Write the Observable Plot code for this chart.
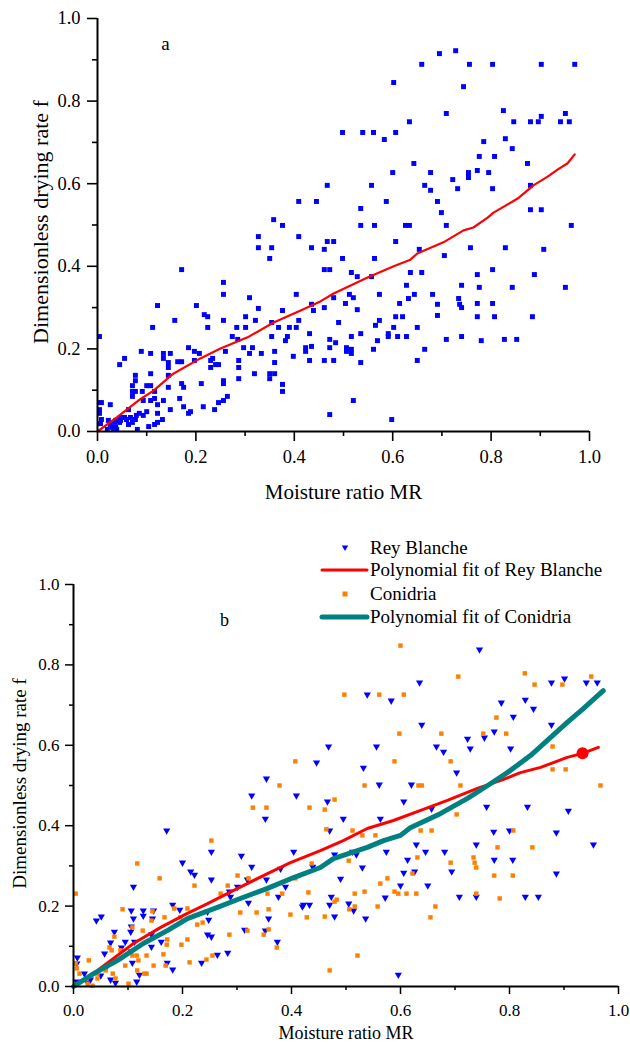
<!DOCTYPE html>
<html><head><meta charset="utf-8">
<script src="https://cdn.jsdelivr.net/npm/d3@7"></script>
<script src="https://cdn.jsdelivr.net/npm/@observablehq/plot@0.6"></script>
<style>
body{margin:0;background:#fff;}
#wrap{position:relative;width:630px;height:1044px;overflow:hidden;background:#fff;}
#pa{position:absolute;left:0;top:0}
#pb{position:absolute;left:0;top:530px}
#legend{position:absolute;left:0;top:530px}
</style></head><body><div id="wrap"><div id="pa"></div><div id="pb"></div><div id="legend"></div></div>
<script>
// ---------- Data ----------
const majorTicks = [0, 0.2, 0.4, 0.6, 0.8, 1.0];
const minorTicks = [0.1, 0.3, 0.5, 0.7, 0.9];
const tickLabels = ["0.0", "0.2", "0.4", "0.6", "0.8", "1.0"];
const xTitle = "Moisture ratio MR";
const yTitle = "Dimensionless drying rate f";
const seriesNames = ["Rey Blanche", "Polynomial fit of Rey Blanche", "Conidria", "Polynomial fit of Conidria"];

// Panel a scatter
const aX = [0.695,0.728,0.659,0.756,0.803,0.902,0.970,0.602,0.744,0.709,0.825,0.951,0.902,0.634,0.846,0.880,0.896,0.941,0.959,0.498,0.539,0.561,0.606,0.583,0.785,0.829,0.843,0.776,0.807,0.874,0.643,0.600,0.677,0.754,0.772,0.795,0.754,0.722,0.467,0.557,0.665,0.880,0.677,0.732,0.803,0.409,0.445,0.587,0.691,0.535,0.699,0.880,0.902,0.358,0.376,0.535,0.563,0.626,0.634,0.709,0.963,0.327,0.409,0.467,0.480,0.606,0.327,0.354,0.435,0.461,0.654,0.758,0.829,0.907,0.350,0.498,0.563,0.705,0.461,0.472,0.171,0.516,0.528,0.557,0.636,0.659,0.772,0.803,0.888,0.256,0.628,0.740,0.776,0.843,0.951,0.256,0.404,0.512,0.573,0.644,0.681,0.309,0.480,0.520,0.632,0.734,0.122,0.201,0.327,0.435,0.504,0.614,0.691,0.736,0.772,0.803,0.376,0.439,0.461,0.528,0.740,0.217,0.224,0.301,0.606,0.620,0.691,0.772,0.807,0.884,0.157,0.256,0.321,0.354,0.409,0.490,0.573,0.565,0.602,0.650,0.112,0.224,0.283,0.301,0.368,0.390,0.404,0.431,0.535,0.516,0.591,0.591,0.610,0.628,0.740,0.004,0.274,0.354,0.386,0.285,0.382,0.472,0.569,0.709,0.780,0.827,0.852,0.484,0.315,0.297,0.423,0.435,0.472,0.506,0.516,0.561,0.665,0.423,0.506,0.516,0.089,0.108,0.134,0.148,0.185,0.197,0.207,0.260,0.309,0.333,0.360,0.055,0.134,0.234,0.398,0.431,0.461,0.480,0.650,0.535,0.045,0.144,0.163,0.171,0.197,0.230,0.287,0.240,0.246,0.360,0.144,0.230,0.287,0.077,0.108,0.144,0.319,0.350,0.360,0.350,0.077,0.256,0.287,0.256,0.211,0.171,0.376,0.071,0.100,0.108,0.175,0.144,0.376,0.071,0.077,0.091,0.116,0.071,0.093,0.108,0.116,0.134,0.167,0.264,0.256,0.246,0.122,0.026,0.004,0.008,0.175,0.215,0.004,0.148,0.238,0.063,0.004,0.085,0.100,0.122,0.189,0.185,0.079,0.093,0.047,0.055,0.067,0.059,0.077,0.132,0.008,0.022,0.037,0.047,0.035,0.045,0.071,0.122,0.006,0.026,0.063,0.116,0.104,0.030,0.037,0.081,0.033,0.039,0.020,0.520,0.472,0.598];
const aY = [0.915,0.922,0.889,0.889,0.889,0.889,0.889,0.845,0.835,0.770,0.777,0.770,0.763,0.750,0.750,0.750,0.750,0.750,0.750,0.724,0.724,0.724,0.724,0.707,0.702,0.709,0.685,0.666,0.666,0.649,0.649,0.627,0.627,0.627,0.632,0.627,0.615,0.610,0.596,0.596,0.596,0.596,0.584,0.588,0.588,0.557,0.557,0.557,0.557,0.540,0.530,0.537,0.537,0.513,0.499,0.499,0.499,0.499,0.499,0.499,0.499,0.472,0.472,0.460,0.460,0.460,0.445,0.445,0.445,0.441,0.441,0.445,0.445,0.441,0.419,0.419,0.419,0.426,0.392,0.392,0.392,0.385,0.375,0.375,0.385,0.385,0.380,0.392,0.380,0.361,0.354,0.354,0.349,0.349,0.349,0.332,0.332,0.332,0.332,0.332,0.332,0.324,0.324,0.324,0.322,0.322,0.305,0.305,0.298,0.308,0.310,0.310,0.308,0.308,0.310,0.310,0.293,0.293,0.300,0.295,0.300,0.283,0.278,0.278,0.278,0.278,0.281,0.278,0.278,0.278,0.269,0.269,0.269,0.264,0.269,0.264,0.269,0.257,0.252,0.252,0.252,0.252,0.252,0.252,0.252,0.252,0.252,0.237,0.237,0.230,0.237,0.230,0.230,0.230,0.230,0.230,0.230,0.230,0.230,0.223,0.220,0.223,0.220,0.223,0.220,0.223,0.223,0.215,0.203,0.203,0.203,0.206,0.203,0.203,0.199,0.199,0.199,0.194,0.194,0.189,0.194,0.189,0.189,0.189,0.203,0.194,0.189,0.194,0.189,0.189,0.194,0.177,0.177,0.177,0.182,0.172,0.172,0.172,0.172,0.167,0.162,0.167,0.169,0.169,0.172,0.172,0.172,0.162,0.162,0.167,0.155,0.155,0.155,0.136,0.140,0.136,0.140,0.140,0.140,0.128,0.123,0.123,0.128,0.116,0.116,0.116,0.114,0.111,0.111,0.111,0.107,0.107,0.097,0.097,0.097,0.097,0.097,0.085,0.075,0.075,0.080,0.075,0.080,0.085,0.075,0.070,0.065,0.065,0.070,0.070,0.060,0.060,0.053,0.053,0.053,0.053,0.044,0.044,0.048,0.044,0.048,0.044,0.039,0.039,0.034,0.034,0.034,0.029,0.029,0.029,0.029,0.027,0.027,0.027,0.022,0.022,0.022,0.022,0.019,0.017,0.017,0.017,0.012,0.010,0.010,0.005,0.005,0.005,0.005,0.075,0.041,0.029];

// Panel a polynomial fit
const fitAX = [0,0.04,0.083,0.114,0.154,0.209,0.250,0.305,0.358,0.413,0.453,0.480,0.549,0.602,0.636,0.650,0.703,0.744,0.764,0.793,0.805,0.854,0.874,0.886,0.915,0.935,0.955,0.970];
const fitAY = [0,0.035,0.075,0.099,0.140,0.177,0.201,0.228,0.264,0.293,0.315,0.334,0.373,0.400,0.416,0.431,0.458,0.487,0.494,0.518,0.530,0.564,0.584,0.596,0.617,0.634,0.649,0.671];

// Panel b: Rey Blanche
const rbX = [0.745,0.635,0.901,0.877,0.941,0.961,0.539,0.583,0.785,0.829,0.844,0.807,0.639,0.877,0.772,0.723,0.754,0.468,0.556,0.666,0.679,0.728,0.802,0.446,0.532,0.703,0.561,0.620,0.466,0.606,0.758,0.833,0.908,0.657,0.495,0.563,0.470,0.771,0.800,0.886,0.171,0.327,0.354,0.352,0.409,0.253,0.308,0.404,0.200,0.327,0.215,0.222,0.253,0.110,0.319,0.354,0.042,0.051,0.286,0.301,0.288,0.380,0.389,0.376,0.420,0.433,0.321,0.182,0.195,0.106,0.128,0.147,0.128,0.246,0.110,0.145,0.248,0.358,0.106,0.314,0.246,0.253,0.352,0.075,0.105,0.143,0.068,0.095,0.112,0.161,0.374,0.057,0.106,0.143,0.088,0.283,0.264,0.172,0.235,0.182,0.061,0.007,0.006,0.108,0.121,0.020,0.050,0.068,0.031,0.116,0.077,0.026,0.006,0.629,0.739,0.954,0.479,0.512,0.519,0.574,0.646,0.681,0.613,0.772,0.806,0.439,0.530,0.606,0.626,0.694,0.886,0.490,0.600,0.650,0.473,0.572,0.708,0.739,0.829,0.853,0.422,0.470,0.505,0.514,0.479,0.536,0.596];
const rbY = [0.836,0.754,0.764,0.754,0.754,0.754,0.724,0.709,0.704,0.711,0.689,0.669,0.649,0.649,0.632,0.614,0.617,0.595,0.595,0.595,0.582,0.590,0.590,0.555,0.542,0.530,0.500,0.500,0.458,0.458,0.445,0.445,0.435,0.440,0.415,0.415,0.386,0.383,0.386,0.381,0.386,0.473,0.515,0.415,0.473,0.333,0.323,0.333,0.306,0.296,0.284,0.276,0.264,0.246,0.264,0.264,0.162,0.172,0.234,0.246,0.221,0.291,0.246,0.221,0.197,0.201,0.206,0.201,0.189,0.187,0.187,0.187,0.174,0.184,0.167,0.167,0.164,0.167,0.147,0.139,0.127,0.122,0.137,0.134,0.134,0.127,0.107,0.109,0.109,0.109,0.109,0.080,0.085,0.097,0.095,0.082,0.077,0.057,0.057,0.040,0.047,0.070,0.055,0.057,0.027,0.030,0.025,0.015,0.015,0.010,0.007,0.007,0.010,0.351,0.351,0.351,0.326,0.333,0.326,0.333,0.333,0.333,0.313,0.313,0.313,0.296,0.294,0.281,0.284,0.284,0.279,0.266,0.249,0.249,0.221,0.219,0.221,0.221,0.221,0.221,0.201,0.201,0.204,0.187,0.172,0.167,0.027];

// Panel b: Conidria
const coX = [0.600,0.706,0.828,0.950,0.846,0.897,0.497,0.561,0.606,0.776,0.598,0.675,0.752,0.794,0.879,0.589,0.692,0.879,0.903,0.534,0.633,0.639,0.710,0.967,0.479,0.433,0.461,0.703,0.464,0.512,0.530,0.554,0.637,0.657,0.807,0.253,0.329,0.354,0.378,0.407,0.117,0.158,0.437,0.222,0.283,0.301,0.321,0.270,0.407,0.356,0.383,0.431,0.004,0.090,0.145,0.167,0.143,0.185,0.209,0.196,0.227,0.237,0.306,0.336,0.358,0.398,0.428,0.319,0.286,0.358,0.349,0.108,0.127,0.075,0.172,0.209,0.171,0.198,0.165,0.373,0.066,0.070,0.086,0.134,0.116,0.108,0.255,0.244,0.213,0.147,0.169,0.119,0.095,0.077,0.117,0.028,0.004,0.011,0.044,0.059,0.072,0.077,0.044,0.130,0.134,0.101,0.026,0.035,0.006,0.778,0.842,0.631,0.734,0.736,0.739,0.692,0.505,0.622,0.772,0.806,0.576,0.563,0.516,0.534,0.589,0.596,0.611,0.629,0.739,0.483,0.479,0.782,0.516,0.506,0.558,0.664,0.461,0.655,0.521,0.470];
const coY = [0.848,0.771,0.779,0.771,0.751,0.751,0.726,0.726,0.726,0.669,0.629,0.629,0.629,0.629,0.597,0.560,0.560,0.540,0.540,0.500,0.500,0.500,0.500,0.500,0.465,0.445,0.440,0.428,0.391,0.388,0.376,0.376,0.388,0.388,0.388,0.363,0.445,0.445,0.500,0.560,0.306,0.269,0.306,0.251,0.251,0.276,0.269,0.231,0.269,0.231,0.231,0.234,0.231,0.192,0.187,0.172,0.164,0.194,0.194,0.172,0.154,0.159,0.184,0.184,0.192,0.179,0.172,0.139,0.129,0.142,0.129,0.147,0.139,0.124,0.117,0.117,0.104,0.104,0.080,0.097,0.097,0.090,0.090,0.077,0.077,0.077,0.077,0.067,0.060,0.052,0.052,0.065,0.052,0.065,0.040,0.065,0.057,0.032,0.032,0.040,0.032,0.020,0.020,0.032,0.032,0.007,0.007,0.002,0.045,0.346,0.346,0.321,0.321,0.308,0.296,0.308,0.313,0.281,0.276,0.276,0.269,0.256,0.231,0.236,0.236,0.231,0.231,0.231,0.231,0.216,0.211,0.219,0.199,0.192,0.199,0.199,0.174,0.172,0.077,0.040];

// Panel b fits
const fitRbX = [0,0.044,0.110,0.160,0.209,0.246,0.294,0.356,0.398,0.453,0.495,0.539,0.587,0.637,0.686,0.741,0.783,0.820,0.857,0.906,0.934,0.963];
const fitRbY = [0,0.040,0.107,0.147,0.182,0.206,0.239,0.281,0.308,0.338,0.363,0.393,0.413,0.438,0.463,0.493,0.512,0.532,0.545,0.570,0.580,0.595];
const fitCoX = [0,0.037,0.081,0.128,0.172,0.209,0.264,0.306,0.356,0.404,0.453,0.477,0.539,0.569,0.600,0.618,0.673,0.723,0.760,0.796,0.839,0.875,0.906,0.936,0.972];
const fitCoY = [0,0.032,0.065,0.107,0.139,0.169,0.197,0.219,0.244,0.271,0.296,0.318,0.346,0.363,0.376,0.395,0.430,0.468,0.500,0.532,0.575,0.619,0.657,0.692,0.736];
const markerX = [0.934];
const markerY = [0.580];

// ---------- Build tables ----------
const zipXY = (xs, ys) => xs.map((x, i) => ({x, y: ys[i]}));
const ptsA = zipXY(aX, aY), lineA = zipXY(fitAX, fitAY);
const ptsRb = zipXY(rbX, rbY), ptsCo = zipXY(coX, coY);
const lineRb = zipXY(fitRbX, fitRbY), lineCo = zipXY(fitCoX, fitCoY);
const marker = zipXY(markerX, markerY);

const serif = '"Liberation Serif", "Times New Roman", serif';
const fmt = d => tickLabels[majorTicks.findIndex(t => Math.abs(t - d) < 1e-9)];
const triDown = {
  draw(ctx, size) {
    const r = Math.sqrt(size / Math.PI);
    ctx.moveTo(-r, -0.8 * r);
    ctx.lineTo(r, -0.8 * r);
    ctx.lineTo(0, 0.95 * r);
    ctx.closePath();
  }
};

function axes(fs, majorLen, minorLen, padY, padX, sw) {
  return [
    Plot.axisY(minorTicks, {tickSize: minorLen, tickFormat: () => "", label: null, strokeWidth: sw}),
    Plot.axisX(minorTicks, {tickSize: minorLen, tickFormat: () => "", label: null, strokeWidth: sw}),
    Plot.axisY(majorTicks, {tickSize: majorLen, tickPadding: padY, tickFormat: fmt, label: null, fontSize: fs, strokeWidth: sw}),
    Plot.axisX(majorTicks, {tickSize: majorLen, tickPadding: padX, tickFormat: fmt, label: null, fontSize: fs, strokeWidth: sw}),
    Plot.ruleX([0], {strokeWidth: 2}),
    Plot.ruleY([0], {strokeWidth: 2})
  ];
}

// ---------- Panel a ----------
const chartA = Plot.plot({
  width: 630, height: 510,
  marginLeft: 97, marginRight: 41, marginTop: 18, marginBottom: 79,
  x: {domain: [0, 1]}, y: {domain: [0, 1]},
  style: {fontFamily: serif, background: "white", color: "black", overflow: "visible"},
  marks: [
    Plot.dot(ptsA, {x: "x", y: "y", symbol: "square", r: 2.8, fill: "#0000ff", stroke: "none"}),
    Plot.line(lineA, {x: "x", y: "y", stroke: "#ff0000", strokeWidth: 2.2}),
    ...axes(18.5, 10, 5, 7, 8, 1.6),
    Plot.text(["a"], {x: 0.138, y: 0.939, text: d => d, fontSize: 19}),
    Plot.text([xTitle], {frameAnchor: "bottom", dy: 61, lineAnchor: "middle", textAnchor: "middle", text: d => d, fontSize: 21}),
    Plot.text([yTitle], {frameAnchor: "left", dx: -57, dy: -3, rotate: -90, lineAnchor: "middle", textAnchor: "middle", text: d => d, fontSize: 22})
  ]
});
document.getElementById("pa").appendChild(chartA);

// ---------- Panel b ----------
const chartB = Plot.plot({
  width: 630, height: 514,
  marginLeft: 73, marginRight: 12, marginTop: 54, marginBottom: 58,
  x: {domain: [0, 1]}, y: {domain: [0, 1]},
  style: {fontFamily: serif, background: "white", color: "black", overflow: "visible"},
  marks: [
    Plot.dot(ptsRb, {x: "x", y: "y", symbol: triDown, r: 3.6, fill: "#0000ff", stroke: "none"}),
    Plot.dot(ptsCo, {x: "x", y: "y", symbol: "square", r: 2.5, fill: "#ff8000", stroke: "none"}),
    Plot.line(lineRb, {x: "x", y: "y", stroke: "#ff0000", strokeWidth: 3}),
    Plot.line(lineCo, {x: "x", y: "y", stroke: "#008080", strokeWidth: 5}),
    Plot.dot(marker, {x: "x", y: "y", r: 6, fill: "#ff0000", stroke: "none"}),
    ...axes(17, 8, 4, 6, 9, 1.5),
    Plot.text(["b"], {x: 0.277, y: 0.910, text: d => d, fontSize: 18}),
    Plot.text([xTitle], {frameAnchor: "bottom", dy: 47, lineAnchor: "middle", textAnchor: "middle", text: d => d, fontSize: 18}),
    Plot.text([yTitle], {frameAnchor: "left", dx: -54, dy: -2, rotate: -90, lineAnchor: "middle", textAnchor: "middle", text: d => d, fontSize: 19})
  ]
});
document.getElementById("pb").appendChild(chartB);

// ---------- Legend for panel b ----------
const lg = d3.select("#legend").append("svg").attr("width", 630).attr("height", 100)
  .style("font-family", serif).style("overflow", "visible");
const rows = [18, 40, 64, 87];
const sx = 345, lx1 = 322, lx2 = 367, tx = 370;
lg.append("path").attr("d", d3.symbol(triDown, 3.2 * 3.2 * Math.PI)()).attr("transform", `translate(${sx},${rows[0]})`).attr("fill", "#0000ff");
lg.append("line").attr("x1", lx1).attr("x2", lx2).attr("y1", rows[1]).attr("y2", rows[1]).attr("stroke", "#ff0000").attr("stroke-width", 3).attr("stroke-linecap", "round");
lg.append("rect").attr("x", sx - 2.5).attr("y", rows[2] - 2.5).attr("width", 5).attr("height", 5).attr("fill", "#ff8000");
lg.append("line").attr("x1", lx1).attr("x2", lx2).attr("y1", rows[3]).attr("y2", rows[3]).attr("stroke", "#008080").attr("stroke-width", 5).attr("stroke-linecap", "round");
seriesNames.forEach((name, i) => {
  lg.append("text").attr("x", tx).attr("y", rows[i]).attr("dy", "0.32em").attr("font-size", 19).attr("fill", "black").text(name);
});
</script>
</body></html>
